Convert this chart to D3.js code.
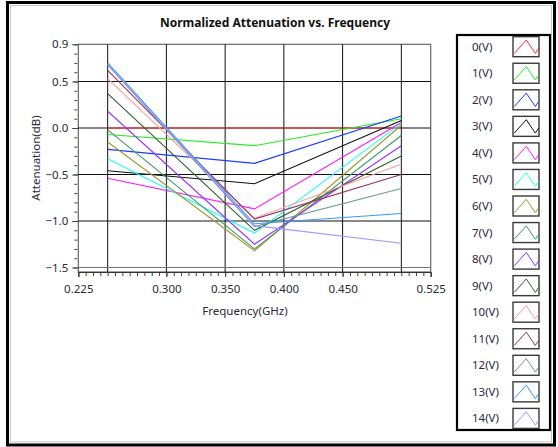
<!DOCTYPE html>
<html>
<head>
<meta charset="utf-8">
<title></title>
<script src="https://cdnjs.cloudflare.com/ajax/libs/d3/7.8.5/d3.min.js"></script>
<style>
  body { margin: 0; background: #fff; }
  svg text { font-family: "Noto Sans", "Open Sans", sans-serif; }
</style>
</head>
<body>
<div id="chart"></div>
<script>
// frequencies (GHz) where each curve was measured
var freqs = [0.25, 0.375, 0.5];

// normalized attenuation (dB) per bias voltage
var v0  = [0.00,  0.00,  0.00];
var v1  = [-0.07, -0.19, 0.10];
var v2  = [-0.23, -0.38, 0.13];
var v3  = [-0.46, -0.60, 0.08];
var v4  = [-0.54, -0.87, 0.06];
var v5  = [-0.33, -1.13, 0.05];
var v6  = [-0.15, -1.32, 0.03];
var v7  = [-0.02, -1.30, -0.08];
var v8  = [0.18,  -1.25, -0.19];
var v9  = [0.37,  -1.10, -0.30];
var v10 = [0.53,  -0.97, -0.39];
var v11 = [0.62,  -0.98, -0.50];
var v12 = [0.68,  -1.06, -0.65];
var v13 = [0.70,  -1.03, -0.92];
var v14 = [0.69,  -1.05, -1.24];

var seriesNames = ["0(V)", "1(V)", "2(V)", "3(V)", "4(V)", "5(V)", "6(V)", "7(V)",
                   "8(V)", "9(V)", "10(V)", "11(V)", "12(V)", "13(V)", "14(V)"];
var seriesValues = [v0, v1, v2, v3, v4, v5, v6, v7, v8, v9, v10, v11, v12, v13, v14];

var xTickValues = [0.225, 0.300, 0.350, 0.400, 0.450, 0.525];
var xGridValues = [0.25, 0.30, 0.35, 0.40, 0.45, 0.50];
var yTickValues = [0.9, 0.5, 0.0, -0.5, -1.0, -1.5];
var yGridValues = [0.5, 0.0, -0.5, -1.0, -1.5];

var palette = ["#ff2a2a", "#22ee22", "#1a3cff", "#111111", "#ff1aff", "#1affff", "#9c9a30",
               "#3a9a66", "#9933ff", "#2f5e2f", "#ff9a9a", "#993360", "#6a9c9c", "#3399ff", "#9a9aff"];

var w = 558, h = 447;
var svg = d3.select("#chart").append("svg")
            .attr("width", w)
            .attr("height", h);

// outer panel frame
svg.append("rect")
   .attr("x", 7.5).attr("y", 2.5)
   .attr("width", 547).attr("height", 442.5)
   .attr("fill", "#fff")
   .attr("stroke", "#000")
   .attr("stroke-width", 3);
svg.append("rect")
   .attr("x", 10.5).attr("y", 5.5)
   .attr("width", 541).attr("height", 436.5)
   .attr("fill", "none")
   .attr("stroke", "#c8c8c8")
   .attr("stroke-width", 1);

var plotLeft = 78.3, plotRight = 430.7, plotTop = 44.3, plotBottom = 272;

var x = d3.scaleLinear()
          .domain([0.225, 0.525])
          .range([plotLeft, plotRight]);
var y = d3.scaleLinear()
          .domain([-1.5, 0.9])
          .range([267.5, plotTop]);

// plot area
svg.append("rect")
   .attr("x", plotLeft).attr("y", plotTop)
   .attr("width", plotRight - plotLeft).attr("height", plotBottom - plotTop)
   .attr("fill", "#fff")
   .attr("stroke", "#666")
   .attr("stroke-width", 1.2);

// grid
svg.selectAll(".vgrid")
   .data(xGridValues)
   .enter().append("line")
   .attr("x1", (d) => x(d)).attr("x2", (d) => x(d))
   .attr("y1", plotTop).attr("y2", plotBottom)
   .attr("stroke", "#111")
   .attr("stroke-width", 1);
svg.selectAll(".hgrid")
   .data(yGridValues)
   .enter().append("line")
   .attr("x1", plotLeft).attr("x2", plotRight)
   .attr("y1", (d) => y(d)).attr("y2", (d) => y(d))
   .attr("stroke", (d) => d == -1.5 ? "#777" : "#111")
   .attr("stroke-width", 1);

// curves
var line = d3.line()
             .x((d, i) => x(freqs[i]))
             .y((d) => y(d));

svg.selectAll(".curve")
   .data(seriesValues)
   .enter().append("path")
   .attr("d", (d) => line(d))
   .attr("fill", "none")
   .attr("stroke", (d, i) => palette[i])
   .attr("stroke-width", 1.1);

// y axis: major + minor ticks
var yAxis = d3.axisLeft(y)
              .tickValues(yTickValues)
              .tickSize(6)
              .tickPadding(4)
              .tickFormat(d3.format(".1f"));
var gy = svg.append("g")
            .attr("transform", "translate(" + plotLeft + ",0)")
            .call(yAxis);
gy.select(".domain").remove();
gy.selectAll("line").attr("stroke", "#333");
gy.selectAll("text")
  .attr("font-size", "11.5px")
  .attr("fill", "#2a2a3a");

var yMinor = d3.axisLeft(y)
               .tickValues(d3.range(-15, 10).map((k) => k / 10))
               .tickSize(3)
               .tickFormat("");
var gym = svg.append("g")
             .attr("transform", "translate(" + (plotLeft - 1) + ",0)")
             .call(yMinor);
gym.select(".domain").remove();
gym.selectAll("line").attr("stroke", "#444");

// x axis: major + minor ticks
var xAxis = d3.axisBottom(x)
              .tickValues(xTickValues)
              .tickSize(5)
              .tickPadding(8)
              .tickFormat(d3.format(".3f"));
var gx = svg.append("g")
            .attr("transform", "translate(0," + plotBottom + ")")
            .call(xAxis);
gx.select(".domain").attr("stroke", "#333");
gx.selectAll("line").attr("stroke", "#333");
gx.selectAll("text")
  .attr("font-size", "11.5px")
  .attr("fill", "#2a2a3a");

var xMinor = d3.axisBottom(x)
               .tickValues(d3.range(0, 49).map((k) => 0.225 + k * 0.00625))
               .tickSize(3)
               .tickFormat("");
var gxm = svg.append("g")
             .attr("transform", "translate(0," + (plotBottom + 1) + ")")
             .call(xMinor);
gxm.select(".domain").remove();
gxm.selectAll("line").attr("stroke", "#444");

// titles
svg.append("text")
   .attr("x", 275).attr("y", 27)
   .attr("text-anchor", "middle")
   .attr("font-size", "12px")
   .attr("font-weight", "bold")
   .attr("fill", "#111")
   .text("Normalized Attenuation vs. Frequency");

svg.append("text")
   .attr("x", 245).attr("y", 315)
   .attr("text-anchor", "middle")
   .attr("font-size", "11.5px")
   .attr("fill", "#2a2a3a")
   .text("Frequency(GHz)");

svg.append("text")
   .attr("transform", "translate(40,158) rotate(-90)")
   .attr("text-anchor", "middle")
   .attr("font-size", "11.5px")
   .attr("fill", "#2a2a3a")
   .text("Attenuation(dB)");

// legend
var legTop = 36.7, rowH = 26.55;
svg.append("rect")
   .attr("x", 457).attr("y", 35)
   .attr("width", 93).attr("height", 395)
   .attr("fill", "#fff")
   .attr("stroke", "#000")
   .attr("stroke-width", 2.2);

var rows = svg.selectAll(".legrow")
              .data(seriesNames)
              .enter().append("g")
              .attr("transform", (d, i) => "translate(0," + (legTop + i * rowH) + ")");

rows.append("text")
    .attr("x", 472).attr("y", 14)
    .attr("font-size", "11.5px")
    .attr("fill", "#2a2a3a")
    .text((d) => d);

rows.append("rect")
    .attr("x", 513).attr("y", 0)
    .attr("width", 26).attr("height", 20)
    .attr("fill", "#fff")
    .attr("stroke", "#3a3a3a")
    .attr("stroke-width", 1.4);

rows.append("polyline")
    .attr("points", "514.3,16.7 526.3,3.3 535.3,16.7 538.7,11.7")
    .attr("fill", "none")
    .attr("stroke", (d, i) => palette[i])
    .attr("stroke-width", 1);
</script>
</body>
</html>
